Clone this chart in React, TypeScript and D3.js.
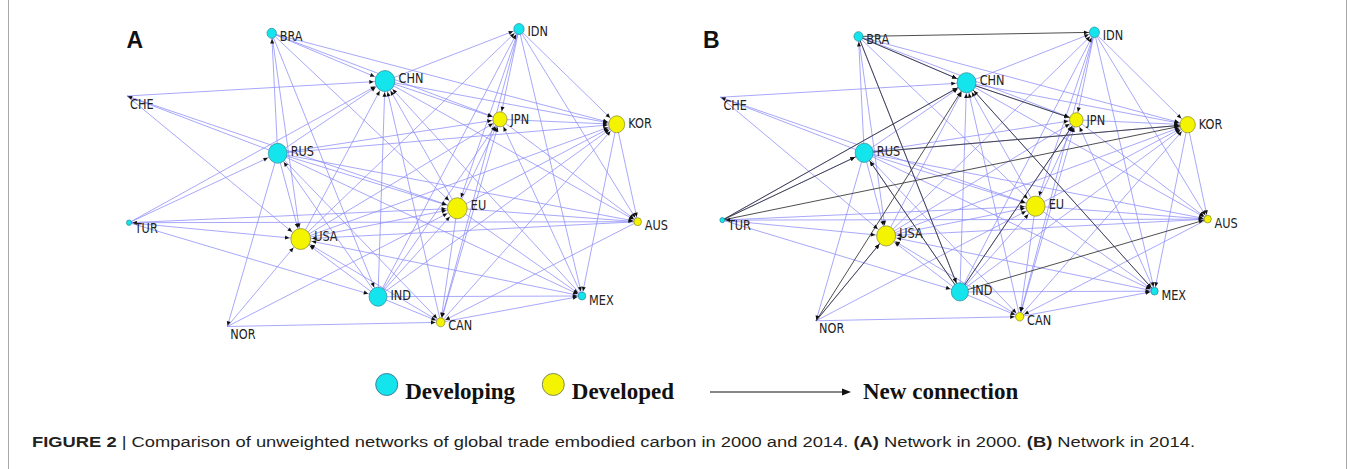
import React from 'react';
import * as d3 from 'd3';

const W = 1354;
const H = 469;

// Countries (nodes)
const countries = ['BRA', 'IDN', 'CHN', 'CHE', 'JPN', 'KOR', 'RUS', 'EU', 'TUR', 'AUS', 'USA', 'IND', 'MEX', 'CAN', 'NOR'];
const groups = ['Developing', 'Developing', 'Developing', 'Developed', 'Developed', 'Developed', 'Developing', 'Developed', 'Developing', 'Developed', 'Developed', 'Developing', 'Developing', 'Developed', 'Developed'];
// Graph layout (layout units, as placed by the network drawing software)
const layoutX = [271.7, 519, 385, 127, 500, 616.7, 277.7, 457.3, 129, 637.7, 300.7, 378, 582, 440.7, 227.3];
const layoutY = [33.3, 29, 81, 96, 119.3, 124.3, 153.3, 208.3, 222.7, 221.7, 239, 296.7, 296, 322.3, 326.5];
// Relative node size
const nodeSize = [5, 5.5, 10.5, 0, 7.5, 8.5, 10, 10.5, 2.7, 4, 10.5, 9.5, 4, 4.5, 0];

// Directed links in 2000 (source>target)
const links2000 = [
  'BRA>CHN', 'BRA>JPN', 'BRA>KOR', 'RUS>BRA', 'BRA>USA', 'BRA>IND', 'BRA>EU',
  'CHE>CHN', 'RUS>CHE', 'CHE>EU', 'CHE>USA',
  'TUR>RUS', 'TUR>CHN', 'TUR>USA', 'TUR>EU', 'AUS>TUR', 'TUR>IND',
  'RUS>CHN', 'RUS>JPN', 'RUS>KOR', 'RUS>EU', 'RUS>AUS', 'RUS>MEX', 'RUS>USA', 'IND>RUS', 'RUS>CAN',
  'RUS>NOR', 'NOR>USA', 'NOR>EU', 'NOR>CAN',
  'CHN>IDN', 'IDN>JPN', 'IDN>KOR', 'IDN>EU', 'IND>IDN', 'IDN>CAN', 'IDN>MEX', 'IDN>AUS', 'USA>IDN',
  'CHN>JPN', 'CHN>KOR', 'EU>CHN', 'CHN>AUS', 'MEX>CHN', 'CAN>CHN', 'USA>CHN', 'IND>CHN',
  'JPN>KOR', 'USA>JPN', 'EU>JPN', 'IND>JPN', 'CAN>JPN', 'MEX>JPN', 'JPN>AUS',
  'USA>KOR', 'EU>KOR', 'IND>KOR', 'CAN>KOR', 'KOR>MEX', 'KOR>AUS',
  'USA>EU', 'IND>EU', 'EU>CAN', 'EU>MEX', 'EU>AUS',
  'IND>USA', 'CAN>USA', 'MEX>USA', 'AUS>USA',
  'IND>CAN', 'IND>MEX', 'CAN>MEX', 'AUS>CAN',
];

// New links appearing in 2014
const newLinks2014 = [
  'BRA>IDN', 'BRA>CHN', 'BRA>IND', 'CHN>JPN', 'CHN>MEX', 'TUR>CHN', 'TUR>RUS',
  'TUR>KOR', 'RUS>KOR', 'IND>RUS', 'NOR>CHN', 'NOR>USA', 'IND>JPN', 'IND>AUS',
];

const legendItems = ['Developing', 'Developed'];
const legendArrowLabel = 'New connection';

const COLORS = {
  Developing: { fill: '#14e4ec', stroke: '#2b8a93' },
  Developed: { fill: '#f4f400', stroke: '#86862c' },
};

const BLUE = '#8c8cf8';
const BLACK_LINE = '#3a3a3a';

type Scales = {
  x: d3.ScaleLinear<number, number>;
  y: d3.ScaleLinear<number, number>;
  r: d3.ScaleLinear<number, number>;
};

function parse(l: string) {
  const [s, t] = l.split('>');
  return [countries.indexOf(s), countries.indexOf(t)];
}

function Panel({ sc, blue, black, letter, lx, ly }: { sc: Scales; blue: string[]; black: string[]; letter: string; lx: number; ly: number }) {
  const nodes = countries.map((c, i) => ({
    name: c,
    group: groups[i],
    x: sc.x(layoutX[i]),
    y: sc.y(layoutY[i]),
    r: sc.r(nodeSize[i]),
  }));
  const mk = (l: string, kind: string) => {
    const [s, t] = parse(l);
    return { s: nodes[s], t: nodes[t], kind };
  };
  const all = [...blue.map((l) => mk(l, 'blue')), ...black.map((l) => mk(l, 'black'))];

  const arrow = (e: any) => {
    const dx = e.t.x - e.s.x;
    const dy = e.t.y - e.s.y;
    const len = Math.hypot(dx, dy);
    const ux = dx / len;
    const uy = dy / len;
    const tipX = e.t.x - ux * (e.t.r + 0.8);
    const tipY = e.t.y - uy * (e.t.r + 0.8);
    const L = 4.4;
    const Wd = 2;
    const bx = tipX - ux * L;
    const by = tipY - uy * L;
    const px = -uy;
    const py = ux;
    return `M${tipX},${tipY}L${bx + px * Wd},${by + py * Wd}L${bx - px * Wd},${by - py * Wd}Z`;
  };

  return (
    <g>
      <text x={lx} y={ly} fontFamily="Liberation Sans, Arial, sans-serif" fontWeight="bold" fontSize={23} fill="#111">
        {letter}
      </text>
      <g>
        {all
          .filter((e) => e.kind === 'blue')
          .map((e, i) => (
            <line key={'b' + i} x1={e.s.x} y1={e.s.y} x2={e.t.x} y2={e.t.y} stroke={BLUE} strokeWidth={0.85} strokeOpacity={0.9} />
          ))}
        {all
          .filter((e) => e.kind === 'black')
          .map((e, i) => (
            <line key={'k' + i} x1={e.s.x} y1={e.s.y} x2={e.t.x} y2={e.t.y} stroke={BLACK_LINE} strokeWidth={0.9} />
          ))}
      </g>
      <g>
        {nodes
          .filter((n) => n.r > 0)
          .map((n) => (
            <ellipse
              key={n.name}
              cx={n.x}
              cy={n.y}
              rx={n.r * 0.94}
              ry={n.r}
              fill={COLORS[n.group as keyof typeof COLORS].fill}
              stroke={COLORS[n.group as keyof typeof COLORS].stroke}
              strokeWidth={0.7}
            />
          ))}
      </g>
      <g>
        {all.map((e, i) => (
          <path key={'a' + i} d={arrow(e)} fill="#111" />
        ))}
      </g>
      <g>
        {nodes.map((n) => (
          <text
            key={n.name}
            transform={`translate(${n.x + n.r + 3},${n.y - n.r + 12.5}) scale(0.78,1)`}
            fontFamily="DejaVu Sans, Verdana, sans-serif"
            fontSize={14.5}
            fill="#222"
          >
            {n.name}
          </text>
        ))}
      </g>
    </g>
  );
}

export default function App() {
  const scA: Scales = {
    x: d3.scaleLinear().domain([129, 637.7]).range([129, 637.7]),
    y: d3.scaleLinear().domain([29, 322.3]).range([29, 322.3]),
    r: d3.scaleLinear().domain([0, 10]).range([0, 10]),
  };
  const scB: Scales = {
    x: d3.scaleLinear().domain([129, 637.7]).range([722.3, 1207.7]),
    y: d3.scaleLinear().domain([29, 322.3]).range([32.3, 316.7]),
    r: d3.scaleLinear().domain([0, 10]).range([0, 9.6]),
  };

  const legendX = [386.7, 553.3];

  return (
    <svg width={W} height={H} style={{ position: 'absolute', left: 0, top: 0, background: '#fff' }}>
      <rect x={0} y={0} width={W} height={H} fill="#fff" />
      <line x1={8.5} y1={0} x2={8.5} y2={H} stroke="#a8a8a8" strokeWidth={1} />
      <line x1={1346.5} y1={0} x2={1346.5} y2={H} stroke="#a8a8a8" strokeWidth={1} />

      <Panel sc={scA} blue={links2000} black={[]} letter="A" lx={126.5} ly={48.3} />
      <Panel sc={scB} blue={links2000} black={newLinks2014} letter="B" lx={703} ly={48} />

      {/* Legend */}
      {legendItems.map((g, i) => (
        <g key={g}>
          <ellipse
            cx={legendX[i]}
            cy={384.5}
            rx={11}
            ry={11}
            fill={COLORS[g as keyof typeof COLORS].fill}
            stroke={g === 'Developing' ? '#3f7f9c' : '#7f8a5a'}
            strokeWidth={1}
          />
          <text x={legendX[i] + 18.5} y={398.5} fontFamily="Liberation Serif, Times New Roman, serif" fontWeight="bold" fontSize={23} fill="#111">
            {g}
          </text>
        </g>
      ))}
      <line x1={710} y1={392} x2={843} y2={392} stroke="#111" strokeWidth={1.1} />
      <path d="M851,392L842,388.5L842,395.5Z" fill="#111" />
      <text x={863} y={398.5} fontFamily="Liberation Serif, Times New Roman, serif" fontWeight="bold" fontSize={23} fill="#111">
        {legendArrowLabel}
      </text>

      {/* Caption */}
      <text
        x={32}
        y={446.5}
        fontFamily="Liberation Sans, Arial, sans-serif"
        fontSize={14}
        fill="#231f20"
        textLength={1163}
        lengthAdjust="spacingAndGlyphs"
      >
        <tspan fontWeight="bold">FIGURE 2 </tspan>
        <tspan>| Comparison of unweighted networks of global trade embodied carbon in 2000 and 2014. </tspan>
        <tspan fontWeight="bold">(A)</tspan>
        <tspan> Network in 2000. </tspan>
        <tspan fontWeight="bold">(B)</tspan>
        <tspan> Network in 2014.</tspan>
      </text>
    </svg>
  );
}
